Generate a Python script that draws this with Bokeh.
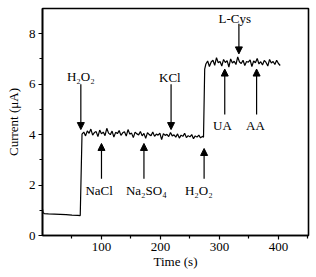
from bokeh.plotting import figure
from bokeh.models import Range1d, FixedTicker, Arrow, NormalHead, ColumnDataSource, LabelSet
from bokeh.embed import file_html
from bokeh.resources import INLINE

# ---- data ----
t_base = [0, 1, 3, 10, 20, 30, 40, 50, 60, 64]
c_base = [1.05, 0.90, 0.87, 0.86, 0.85, 0.84, 0.83, 0.81, 0.80, 0.79]

t_seg2 = list(range(67, 272, 3))
c_seg2 = [4.02, 4.10, 3.95, 4.15, 4.05, 4.22, 3.98, 4.08, 4.12, 3.92,
          4.18, 4.03, 4.10, 3.96, 4.25, 4.06, 4.00, 4.14, 3.90, 4.09,
          4.04, 4.16, 3.97, 4.07, 4.11, 3.94, 4.20, 4.02, 4.06, 3.88,
          4.10, 4.03, 3.99, 4.12, 3.95, 4.05, 3.85, 4.08, 4.00, 3.96,
          4.10, 3.93, 4.02, 3.98, 4.06, 3.80, 4.04, 3.97, 4.01, 3.92,
          4.08, 3.95, 3.99, 3.90, 4.03, 3.86, 3.98, 3.93, 4.05, 3.88,
          3.96, 3.91, 4.00, 3.84, 3.95, 3.90, 3.98, 3.87, 3.93]

t_jump = [273, 275]
c_jump = [3.90, 6.60]

t_seg3 = list(range(277, 404, 3))
c_seg3 = [6.80, 6.92, 6.70, 6.88, 6.95, 6.75, 7.05, 6.85, 6.90, 6.72,
          6.98, 6.86, 6.93, 6.68, 7.00, 6.84, 6.91, 6.78, 7.08, 6.88,
          6.82, 6.95, 6.74, 6.90, 6.87, 6.96, 6.70, 6.92, 6.85, 7.02,
          6.80, 6.89, 6.76, 6.94, 6.86, 6.72, 6.98, 6.84, 6.90, 6.78,
          6.95, 6.82, 6.74]

x_ticks = [100, 200, 300, 400]
x_minor = [50, 150, 250, 350, 450]
y_ticks = [0, 2, 4, 6, 8]
y_minor = [1, 3, 5, 7]

x_title = "Time (s)"
y_title = "Current (\u03bcA)"

# annotations
ann_labels = ["H\u2082O\u2082", "NaCl", "Na\u2082SO\u2084", "KCl", "H\u2082O\u2082", "L-Cys", "UA", "AA"]
ann_arrow_x = [65, 100, 172, 218, 274, 333, 309, 363]
ann_arrow_y0 = [6.0, 2.25, 2.25, 6.0, 2.25, 8.4, 4.8, 4.8]
ann_arrow_y1 = [4.2, 3.65, 3.65, 4.2, 3.45, 7.2, 6.6, 6.6]
ann_text_x = [65, 96, 176, 216, 265, 326, 305, 361]
ann_text_y = [6.3, 1.77, 1.77, 6.27, 1.77, 8.6, 4.35, 4.35]

t_all = t_base + t_seg2 + t_jump + t_seg3
c_all = c_base + c_seg2 + c_jump + c_seg3

FONT = "Liberation Serif"

p = figure(frame_width=266, frame_height=227, output_backend="svg", toolbar_location=None,
           x_range=Range1d(0, 451), y_range=Range1d(0, 9),
           min_border_left=42, min_border_right=6, min_border_top=8, min_border_bottom=40)
p.outline_line_color = "black"
p.outline_line_width = 1.6
p.xgrid.visible = False
p.ygrid.visible = False
p.background_fill_color = "white"
p.border_fill_color = "white"

p.line(t_all, c_all, line_color="black", line_width=1.2)

for ax in (p.xaxis[0], p.yaxis[0]):
    ax.axis_line_width = 1.6
    ax.axis_line_color = "black"
    ax.major_tick_line_color = "black"
    ax.minor_tick_line_color = "black"
    ax.major_tick_line_width = 1.2
    ax.minor_tick_line_width = 1.2
    ax.major_tick_out = 4
    ax.major_tick_in = 0
    ax.minor_tick_out = 3
    ax.minor_tick_in = 0
    ax.major_label_text_font = FONT
    ax.major_label_text_font_size = "13px"
    ax.major_label_text_color = "black"
    ax.major_label_standoff = 3
    ax.axis_label_text_font = FONT
    ax.axis_label_text_font_size = "13px"
    ax.axis_label_text_font_style = "normal"
    ax.axis_label_text_color = "black"

p.xaxis[0].ticker = FixedTicker(ticks=x_ticks, minor_ticks=x_minor)
p.yaxis[0].ticker = FixedTicker(ticks=y_ticks, minor_ticks=y_minor)
p.xaxis[0].axis_label = x_title
p.yaxis[0].axis_label = y_title
p.xaxis[0].axis_label_standoff = 0
p.yaxis[0].axis_label_standoff = 5

for x, y0, y1 in zip(ann_arrow_x, ann_arrow_y0, ann_arrow_y1):
    p.add_layout(Arrow(end=NormalHead(size=7, fill_color="black", line_color="black", line_width=1),
                       x_start=x, y_start=y0, x_end=x, y_end=y1,
                       line_color="black", line_width=1.2))

src = ColumnDataSource(dict(x=ann_text_x, y=ann_text_y, t=ann_labels))
p.add_layout(LabelSet(x="x", y="y", text="t", source=src, text_align="center",
                      text_baseline="middle", text_font=FONT, text_font_size="13px",
                      text_color="black"))

open("out.html", "w").write(file_html(p, INLINE))
